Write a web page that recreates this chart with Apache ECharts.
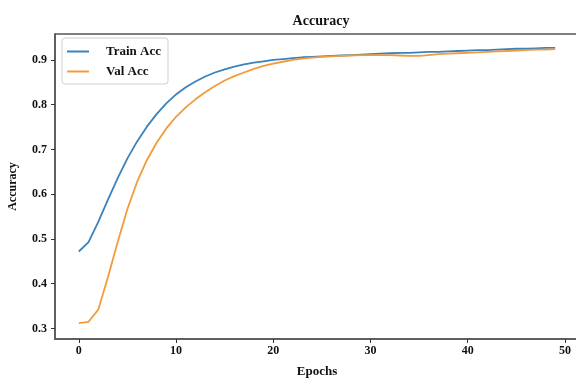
<!DOCTYPE html>
<html>
<head>
<meta charset="utf-8">
<script src="https://cdn.jsdelivr.net/npm/echarts@6/dist/echarts.min.js"></script>
<style>html,body{margin:0;padding:0;background:#fff;}#c{width:576px;height:379px;}</style>
</head>
<body>
<div id="c"></div>
<script>
const epochs = Array.from({length: 50}, (_, i) => i);
const trainAcc = [0.472,0.493,0.538,0.588,0.636,0.680,0.718,0.751,0.779,0.803,
  0.823,0.839,0.852,0.863,0.872,0.879,0.885,0.890,0.894,0.897,
  0.900,0.902,0.904,0.906,0.907,0.908,0.909,0.910,0.911,0.912,
  0.913,0.914,0.915,0.916,0.916,0.917,0.918,0.918,0.919,0.920,
  0.921,0.922,0.922,0.923,0.924,0.925,0.925,0.926,0.927,0.927];
const valAcc = [0.312,0.315,0.342,0.415,0.493,0.567,0.628,0.676,0.715,0.747,
  0.773,0.794,0.812,0.828,0.842,0.854,0.864,0.872,0.880,0.887,
  0.892,0.896,0.900,0.903,0.905,0.907,0.908,0.909,0.910,0.911,
  0.911,0.911,0.911,0.910,0.909,0.909,0.911,0.913,0.914,0.915,
  0.916,0.917,0.918,0.919,0.920,0.921,0.922,0.923,0.923,0.924];
const xTicks = [0,10,20,30,40,50];
const yTicks = [0.3,0.4,0.5,0.6,0.7,0.8,0.9];

const font = 'Liberation Serif';
const chart = echarts.init(document.getElementById('c'));
chart.setOption({
  animation: false,
  backgroundColor: '#fff',
  title: {
    text: 'Accuracy', left: 316, top: 9, textAlign: 'center',
    textStyle: {fontFamily: font, fontWeight: 'bold', fontSize: 14, color: '#111'}
  },
  legend: {
    orient: 'vertical', left: 62, top: 38,
    data: ['Train Acc', 'Val Acc'],
    icon: 'rect', itemWidth: 22, itemHeight: 2, itemGap: 7,
    padding: [7, 7, 6, 5],
    borderColor: '#d0d0d0', borderWidth: 1, borderRadius: 3,
    backgroundColor: '#fff',
    textStyle: {fontFamily: font, fontWeight: 'bold', fontSize: 13, color: '#111', padding: [0,0,0,12]}
  },
  grid: {left: 55, right: -3, top: 34, bottom: 40, outerBoundsMode: 'none', containLabel: false,
    show: true, borderColor: '#555', borderWidth: 1.5},
  xAxis: {
    type: 'value', min: -2.45, max: 51.45,
    name: 'Epochs', nameLocation: 'middle', nameGap: 26,
    nameTextStyle: {fontFamily: font, fontWeight: 'bold', fontSize: 13, color: '#111'},
    axisLine: {show: true, onZero: false, lineStyle: {color: '#555', width: 1.5}},
    axisTick: {show: true, length: 4, customValues: xTicks, lineStyle: {color: '#333'}},
    axisLabel: {customValues: xTicks, margin: 6, fontFamily: font, fontWeight: 'bold', fontSize: 12, color: '#111'},
    splitLine: {show: false}
  },
  yAxis: {
    type: 'value', min: 0.2765, max: 0.958,
    name: 'Accuracy', nameLocation: 'middle', nameGap: 36, nameRotate: 90,
    nameTextStyle: {fontFamily: font, fontWeight: 'bold', fontSize: 12, color: '#111'},
    axisLine: {show: true, onZero: false, lineStyle: {color: '#555', width: 1.5}},
    axisTick: {show: true, length: 4, customValues: yTicks, lineStyle: {color: '#333'}},
    axisLabel: {customValues: yTicks, margin: 8, fontFamily: font, fontWeight: 'bold', fontSize: 12, color: '#111',
      formatter: v => v.toFixed(1)},
    splitLine: {show: false}
  },
  series: [
    {name: 'Train Acc', type: 'line', data: epochs.map((e, i) => [e, trainAcc[i]]),
     showSymbol: false, symbol: 'none', lineStyle: {color: '#3a82bd', width: 1.8}, itemStyle: {color: '#3a82bd'}},
    {name: 'Val Acc', type: 'line', data: epochs.map((e, i) => [e, valAcc[i]]),
     showSymbol: false, symbol: 'none', lineStyle: {color: '#f29b3a', width: 1.8}, itemStyle: {color: '#f29b3a'}}
  ]
});
</script>
</body>
</html>
